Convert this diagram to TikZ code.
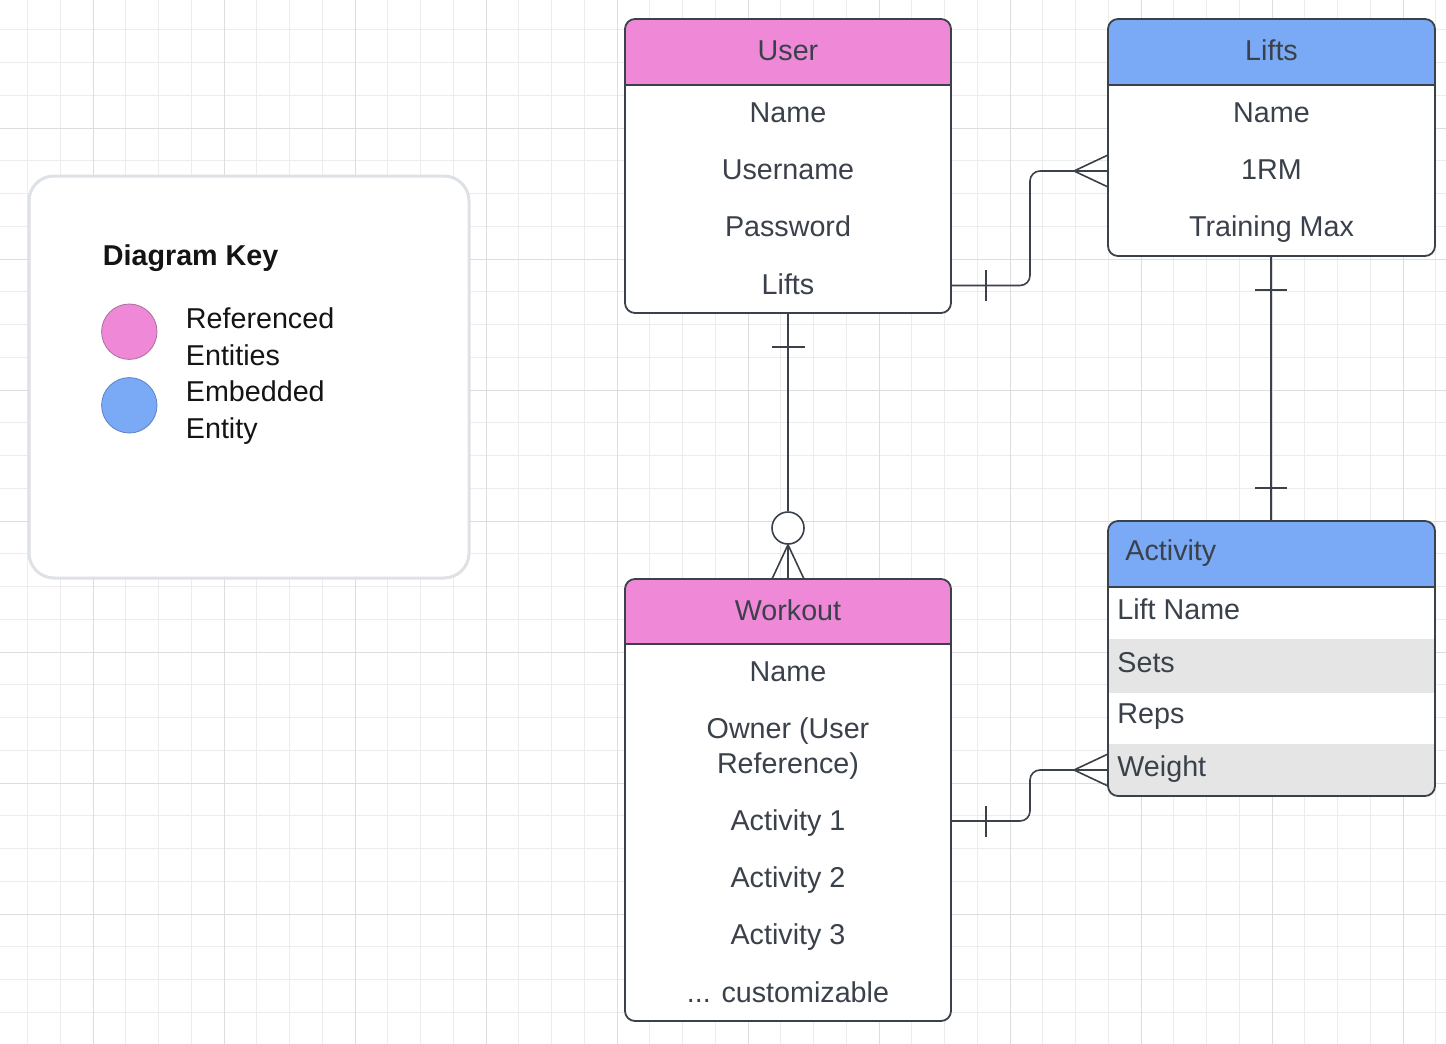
\documentclass[tikz,border=0pt]{standalone}
\usepackage{fontspec}
\setmainfont{Liberation Sans}
\usetikzlibrary{calc}
\definecolor{pinkh}{RGB}{240,136,216}
\definecolor{blueh}{RGB}{122,170,245}
\definecolor{ink}{RGB}{58,65,74}
\definecolor{rowgray}{RGB}{229,229,229}
\definecolor{gridminor}{RGB}{236,236,236}
\definecolor{gridmajor}{RGB}{221,221,221}
\definecolor{keyborder}{RGB}{222,225,230}
\definecolor{keyink}{RGB}{20,20,20}
\begin{document}
\begin{tikzpicture}[x=0.5pt,y=-0.5pt,
  ebox/.style={draw=ink, line width=0.9pt, rounded corners=5pt, fill=white, inner sep=0pt, outer sep=0pt},
  txt/.style={text=ink, font=\fontsize{14.35pt}{17pt}\selectfont, anchor=base, inner sep=0pt},
  ltxt/.style={txt, anchor=base west},
  keytxt/.style={text=keyink, font=\fontsize{14.35pt}{17pt}\selectfont, anchor=base west, inner sep=0pt},
  conn/.style={draw=ink, line width=0.8pt},
  sep/.style={draw=ink, line width=0.9pt},
  dot/.style={circle, inner sep=0pt, minimum size=27.7pt, line width=0.4pt}]
\useasboundingbox (0,0) rectangle (1446,1044);
\fill[white] (0,0) rectangle (1446,1044);
% grid
\foreach \k in {0,...,43} {
  \pgfmathsetmacro{\gx}{27.5+32.75*\k}
  \draw[gridminor, line width=0.5pt] (\gx,0) -- (\gx,1044);
}
\foreach \k in {0,...,31} {
  \pgfmathsetmacro{\gy}{29.75+32.75*\k}
  \draw[gridminor, line width=0.5pt] (0,\gy) -- (1446,\gy);
}
\foreach \k in {0,...,10} {
  \pgfmathsetmacro{\gx}{93+131*\k}
  \draw[gridmajor, line width=0.5pt] (\gx,0) -- (\gx,1044);
}
\foreach \k in {0,...,7} {
  \pgfmathsetmacro{\gy}{128+131*\k}
  \draw[gridmajor, line width=0.5pt] (0,\gy) -- (1446,\gy);
}

% legend
\node[draw=keyborder, line width=1.5pt, rounded corners=12.5pt, fill=white,
      minimum width=220pt, minimum height=201pt, inner sep=0pt] (key) at (249,377) {};
\node[keytxt, font=\fontsize{14.35pt}{17pt}\selectfont\bfseries] (keytitle) at (102.5,265) {Diagram Key};
\node[dot, fill=pinkh, draw={rgb,255:red,170;green,110;blue,160}] (kpink) at (129.3,331.7) {};
\node[dot, fill=blueh, draw={rgb,255:red,90;green,130;blue,200}] (kblue) at (129.3,405.3) {};
\node[keytxt] (k1) at (185.5,328) {Referenced};
\node[keytxt] (k2) at (185.5,365) {Entities};
\node[keytxt] (k3) at (185.5,401) {Embedded};
\node[keytxt] (k4) at (185.5,438) {Entity};

% User
\node[ebox, minimum width=163pt, minimum height=147pt,
  path picture={\fill[pinkh, sharp corners] (path picture bounding box.north west) rectangle ([yshift=-33pt]path picture bounding box.north east);}]
  (user) at (788,166) {};
\draw[sep] ([yshift=-33pt]user.north west) -- ([yshift=-33pt]user.north east);
\node[txt] (uh) at (788,61) {User};
\node[txt] (u1) at (788,122) {Name};
\node[txt] (u2) at (788,179) {Username};
\node[txt] (u3) at (788,236.5) {Password};
\node[txt] (u4) at (788,294) {Lifts};

% Lifts
\node[ebox, minimum width=163.5pt, minimum height=118.5pt,
  path picture={\fill[blueh, sharp corners] (path picture bounding box.north west) rectangle ([yshift=-33pt]path picture bounding box.north east);}]
  (lifts) at (1271.5,137.5) {};
\draw[sep] ([yshift=-33pt]lifts.north west) -- ([yshift=-33pt]lifts.north east);
\node[txt] (lh) at (1271.5,61) {Lifts};
\node[txt] (l1) at (1271.5,122) {Name};
\node[txt] (l2) at (1271.5,179) {1RM};
\node[txt] (l3) at (1271.5,236.5) {Training Max};

% Workout
\node[ebox, minimum width=163pt, minimum height=221pt,
  path picture={\fill[pinkh, sharp corners] (path picture bounding box.north west) rectangle ([yshift=-32.5pt]path picture bounding box.north east);}]
  (workout) at (788,800) {};
\draw[sep] ([yshift=-32.5pt]workout.north west) -- ([yshift=-32.5pt]workout.north east);
\node[txt] (wh) at (788,620.5) {Workout};
\node[txt] (w1) at (788,681.5) {Name};
\node[txt] (w2) at (788,738.5) {Owner (User};
\node[txt] (w3) at (788,773.5) {Reference)};
\node[txt] (w4) at (788,830.5) {Activity 1};
\node[txt] (w5) at (788,887.5) {Activity 2};
\node[txt] (w6) at (788,944.5) {Activity 3};
\node[txt] (w7) at (788,1002) {... customizable};

% Activity
\node[ebox, minimum width=163.5pt, minimum height=137.5pt,
  path picture={
    \fill[blueh, sharp corners] (path picture bounding box.north west) rectangle ([yshift=-33pt]path picture bounding box.north east);
    \fill[rowgray, sharp corners] ([yshift=-59pt]path picture bounding box.north west) rectangle ([yshift=-86pt]path picture bounding box.north east);
    \fill[rowgray, sharp corners] ([yshift=-111.5pt]path picture bounding box.north west) rectangle (path picture bounding box.south east);}]
  (activity) at (1271.5,658.5) {};
\draw[sep] ([yshift=-33pt]activity.north west) -- ([yshift=-33pt]activity.north east);
\node[ltxt] (ah) at (1125,560) {Activity};
\node[ltxt] (a1) at (1117,619) {Lift Name};
\node[ltxt] (a2) at (1117,672) {Sets};
\node[ltxt] (a3) at (1117,723) {Reps};
\node[ltxt] (a4) at (1117,776) {Weight};

% User -- Lifts (one to many)
\draw[conn, rounded corners=5pt] (user.east |- 0,285.5) -- (1030,285.5) -- (1030,171) -- (lifts.west |- 0,171);
\draw[conn] (986,270) -- (986,301);
\draw[conn] (1074,171) -- (lifts.west |- 0,155);
\draw[conn] (1074,171) -- (lifts.west |- 0,187);

% User -- Workout (one to zero-or-many)
\node[circle, draw=ink, fill=white, line width=0.8pt, minimum size=16pt, inner sep=0pt] (zero) at (788,528) {};
\draw[conn] (user.south) -- (zero.north);
\draw[conn] (772,347) -- (805,347);
\draw[conn] (zero.south) -- (workout.north);
\draw[conn] (zero.south) -- ([xshift=-8pt]workout.north);
\draw[conn] (zero.south) -- ([xshift=8pt]workout.north);

% Lifts -- Activity (one to one)
\draw[conn] (lifts.south -| 1271,0) -- (activity.north -| 1271,0);
\draw[conn] (1255,290) -- (1287,290);
\draw[conn] (1255,488) -- (1287,488);

% Workout -- Activity (one to many)
\draw[conn, rounded corners=5pt] (workout.east |- 0,821) -- (1030,821) -- (1030,770) -- (activity.west |- 0,770);
\draw[conn] (986,806) -- (986,837);
\draw[conn] (1074,770) -- (activity.west |- 0,754);
\draw[conn] (1074,770) -- (activity.west |- 0,786);
\end{tikzpicture}
\end{document}
